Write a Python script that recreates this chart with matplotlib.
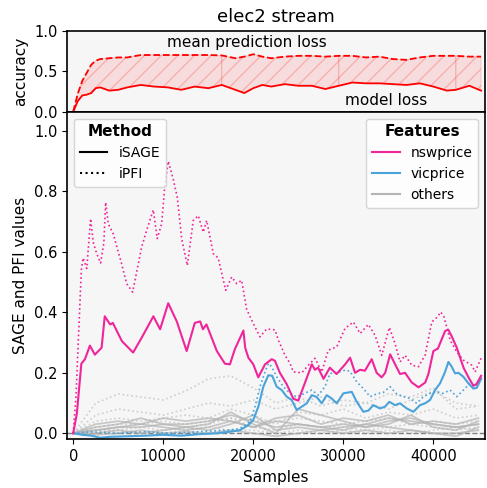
import numpy as np
import matplotlib
matplotlib.use('Agg')
import matplotlib.pyplot as plt
from matplotlib.lines import Line2D

# top panel: accuracy / loss curves
acc_samples = [0, 500, 1000, 1500, 2000, 2500, 3000, 4000, 5000, 6000, 7500, 9000, 10500,
               12000, 13500, 15000, 16500, 18000, 19000, 20000, 21000, 22000, 23500, 25000,
               26500, 28000, 29500, 31000, 32500, 34000, 35500, 37000, 38500, 40000, 41500,
               42500, 44000, 45300]
mean_loss = [0, 0.22, 0.38, 0.48, 0.58, 0.63, 0.65, 0.66, 0.67, 0.67, 0.70, 0.70, 0.70,
             0.70, 0.70, 0.70, 0.695, 0.66, 0.68, 0.71, 0.68, 0.66, 0.68, 0.69,
             0.69, 0.68, 0.69, 0.69, 0.67, 0.68, 0.65, 0.64, 0.67, 0.69, 0.69,
             0.69, 0.68, 0.68]
model_loss = [0, 0.13, 0.20, 0.21, 0.23, 0.29, 0.30, 0.26, 0.27, 0.30, 0.33, 0.31, 0.30,
              0.27, 0.31, 0.29, 0.33, 0.27, 0.23, 0.29, 0.33, 0.31, 0.34, 0.32,
              0.32, 0.28, 0.32, 0.36, 0.35, 0.35, 0.34, 0.33, 0.35, 0.31, 0.26,
              0.27, 0.32, 0.26]

# nswprice
nsw_sage_x = [0, 400, 900, 1300, 1850, 2400, 3150, 3500, 4100, 4400, 5400, 6650, 7600, 8500,
              8900, 9650, 10550, 11500, 12600, 13500, 14100, 14400, 14800, 15950, 16850,
              17400, 17950, 18900, 19100, 19450, 20000, 20550, 21300, 22050, 22400, 22950,
              23700, 24450, 25000, 25550, 26500, 26850, 27200, 27800, 28500, 29250, 30200,
              30750, 31300, 31850, 32400, 33150, 33700, 34250, 34650, 35200, 35750, 36300,
              36850, 37600, 38350, 39100, 39450, 40000, 40500, 41300, 41650, 42050, 42600,
              43350, 43900, 44450, 44800, 45300]
nsw_sage = [0, 0.065, 0.23, 0.245, 0.29, 0.26, 0.283, 0.387, 0.36, 0.365, 0.305, 0.267, 0.316,
            0.365, 0.387, 0.344, 0.43, 0.37, 0.272, 0.365, 0.37, 0.344, 0.36, 0.272, 0.23,
            0.228, 0.278, 0.34, 0.283, 0.25, 0.228, 0.185, 0.228, 0.245, 0.24, 0.2,
            0.163, 0.114, 0.108, 0.152, 0.228, 0.21, 0.217, 0.18, 0.217, 0.196, 0.228,
            0.25, 0.2, 0.21, 0.207, 0.245, 0.2, 0.185, 0.2, 0.261, 0.228, 0.196,
            0.2, 0.168, 0.152, 0.168, 0.196, 0.272, 0.28, 0.338, 0.343, 0.32, 0.283,
            0.217, 0.185, 0.157, 0.163, 0.19]
nsw_pfi_x = [0, 300, 900, 1100, 1500, 1930, 2220, 2600, 3040, 3400, 3600, 3890, 4440, 5370,
             5930, 6600, 7600, 8150, 8890, 9330, 9820, 10190, 10560, 11110, 11560, 12040,
             12670, 13330, 13890, 14440, 14820, 15560, 16100, 16930, 17600, 18150, 18700,
             19260, 20000, 20740, 21490, 22410, 22780, 23520, 24080, 24440, 25380, 26110,
             26860, 27600, 28330, 29270, 30190, 31110, 31860, 32780, 33520, 34270, 35110,
             35740, 36300, 36860, 37600, 38330, 39080, 39820, 40450, 40820, 41180, 41860,
             42600, 43330, 44270, 44630, 45300]
nsw_pfi = [0, 0.12, 0.54, 0.58, 0.545, 0.71, 0.632, 0.595, 0.563, 0.63, 0.764, 0.693, 0.66, 0.561,
           0.495, 0.467, 0.616, 0.671, 0.739, 0.644, 0.693, 0.825, 0.9, 0.84, 0.78, 0.644,
           0.555, 0.704, 0.72, 0.665, 0.704, 0.594, 0.58, 0.473, 0.517, 0.495, 0.506,
           0.41, 0.363, 0.319, 0.345, 0.342, 0.308, 0.258, 0.231, 0.203, 0.2, 0.225,
           0.248, 0.203, 0.275, 0.286, 0.347, 0.368, 0.33, 0.36, 0.324, 0.258, 0.35,
           0.297, 0.236, 0.258, 0.225, 0.22, 0.258, 0.368, 0.385, 0.401, 0.385, 0.308,
           0.269, 0.242, 0.225, 0.203, 0.248]

# vicprice
vic_sage_x = [0, 1000, 2000, 3000, 4000, 6000, 8000, 10000, 12000, 14000, 16000, 17400, 18500,
              19450, 20000, 20560, 21110, 21670, 22100, 22600, 23150, 23710, 24260, 24820,
              25380, 25930, 26490, 27040, 27600, 28150, 28700, 29270, 30000, 30930, 31490,
              32220, 32780, 33330, 34070, 34630, 35110, 35740, 36300, 37040, 37780, 38520,
              39080, 39630, 40190, 40740, 41300, 41670, 42040, 42410, 42780, 43330, 43890,
              44440, 44810, 45300]
vic_sage = [0, -0.005, -0.008, -0.015, -0.012, -0.01, -0.008, -0.005, -0.008, -0.003, 0.0, 0.005, 0.01,
            0.027, 0.044, 0.088, 0.154, 0.192, 0.19, 0.154, 0.143, 0.121, 0.11, 0.077,
            0.088, 0.099, 0.126, 0.12, 0.099, 0.126, 0.115, 0.099, 0.132, 0.137, 0.104,
            0.071, 0.075, 0.093, 0.082, 0.088, 0.104, 0.093, 0.099, 0.082, 0.071, 0.093,
            0.099, 0.11, 0.143, 0.165, 0.203, 0.236, 0.22, 0.198, 0.2, 0.187, 0.165,
            0.148, 0.15, 0.18]
vic_pfi_x = [0, 2000, 5000, 8000, 11000, 14000, 17000, 18500, 19630, 20190, 20740, 21300, 21670,
             22040, 22600, 23330, 24080, 24820, 25560, 26490, 27230, 27960, 28520, 29270,
             30190, 30740, 31490, 32220, 32970, 33700, 34440, 35190, 35930, 36670, 37410,
             38150, 38890, 39630, 40370, 41110, 41850, 42600, 43330, 44070, 44630, 45300]
vic_pfi = [0, 0.005, 0.0, 0.005, 0.0, 0.005, 0.01, 0.015, 0.038, 0.088, 0.154, 0.203, 0.231,
           0.22, 0.187, 0.154, 0.132, 0.12, 0.13, 0.143, 0.126, 0.154, 0.198, 0.2,
           0.209, 0.205, 0.17, 0.148, 0.121, 0.13, 0.135, 0.154, 0.13, 0.121, 0.115,
           0.099, 0.121, 0.132, 0.137, 0.132, 0.143, 0.121, 0.143, 0.165, 0.154, 0.187]

# remaining features (drawn in gray)
others_x = [0, 2500, 5000, 7500, 10000, 12500, 15000, 17500, 20000, 22500, 25000, 27500,
            30000, 32500, 35000, 37500, 40000, 42500, 45000]
others_sage = [
    [0, 0.02, 0.03, 0.05, 0.03, 0.03, 0.04, 0.06, 0.04, 0.02, 0.03, 0.02, 0.03, 0.02, 0.04, 0.05, 0.03, 0.02, 0.03],
    [0, 0.01, 0.02, 0.02, 0.03, 0.02, 0.03, 0.07, 0.03, 0.00, 0.08, 0.06, 0.04, 0.02, 0.03, 0.06, 0.02, 0.01, 0.04],
    [0, 0.0, 0.01, 0.0, 0.01, 0.02, 0.01, 0.03, 0.06, 0.01, 0.02, 0.01, 0.02, 0.03, 0.02, 0.01, 0.0, -0.01, 0.02],
    [0, 0.03, 0.04, 0.03, 0.05, 0.04, 0.05, 0.04, 0.02, 0.05, 0.06, 0.03, 0.05, 0.04, 0.06, 0.03, 0.04, 0.03, 0.05],
    [0, -0.005, 0.0, 0.01, 0.0, 0.005, 0.0, 0.01, 0.0, -0.01, 0.0, 0.01, 0.0, 0.01, 0.0, 0.01, 0.0, 0.0, 0.01],
    [0, 0.01, 0.02, 0.03, 0.02, 0.01, 0.02, 0.04, 0.02, 0.04, 0.03, 0.02, 0.01, 0.03, 0.05, 0.04, 0.03, 0.02, 0.03],
]
others_pfi = [
    [0, 0.10, 0.13, 0.12, 0.11, 0.14, 0.18, 0.19, 0.15, 0.10, 0.12, 0.09, 0.11, 0.10, 0.13, 0.12, 0.15, 0.08, 0.09],
    [0, 0.06, 0.08, 0.07, 0.06, 0.08, 0.10, 0.09, 0.11, 0.08, 0.10, 0.12, 0.09, 0.10, 0.08, 0.11, 0.14, 0.10, 0.09],
    [0, 0.04, 0.05, 0.04, 0.05, 0.06, 0.05, 0.08, 0.06, 0.03, 0.07, 0.06, 0.08, 0.05, 0.07, 0.06, 0.08, 0.05, 0.06],
    [0, 0.02, 0.03, 0.03, 0.04, 0.03, 0.04, 0.05, 0.04, 0.04, 0.05, 0.04, 0.03, 0.04, 0.05, 0.03, 0.04, 0.03, 0.04],
    [0, 0.01, 0.01, 0.02, 0.01, 0.02, 0.03, 0.05, 0.02, 0.01, 0.03, 0.02, 0.02, 0.01, 0.02, 0.03, 0.02, 0.01, 0.02],
    [0, 0.0, 0.01, 0.0, 0.0, 0.01, 0.02, 0.01, 0.01, 0.0, 0.01, 0.0, 0.01, 0.0, 0.01, 0.0, 0.01, 0.02, 0.01],
]
fill_breaks = [0, 16500, 29500, 42500, 45300]

NSW_COLOR = '#f0249b'
VIC_COLOR = '#4aa3da'
GRAY = '#b4b4b4'
BG = '#f6f6f6'

plt.rcParams['font.family'] = ['DejaVu Sans']
plt.rcParams['axes.linewidth'] = 1.2

fig = plt.figure(figsize=(4.87, 4.88), dpi=100)
gs = fig.add_gridspec(2, 1, height_ratios=[81, 328], hspace=0,
                      left=0.138, right=0.996, top=0.937, bottom=0.0998)
ax_top = fig.add_subplot(gs[0])
ax = fig.add_subplot(gs[1], sharex=ax_top)

# --- top panel
xs = np.array(acc_samples)
m_loss = np.array(model_loss)
p_loss = np.array(mean_loss)
for a, b in zip(fill_breaks[:-1], fill_breaks[1:]):
    sel = (xs >= a) & (xs <= b)
    ax_top.fill_between(xs[sel], m_loss[sel], p_loss[sel], facecolor=(1, 0, 0, 0.1),
                        edgecolor=(1, 0, 0, 0.2), hatch='//', linewidth=0.5)
ax_top.plot(acc_samples, mean_loss, color='red', ls='--', lw=1.3)
ax_top.plot(acc_samples, model_loss, color='red', ls='-', lw=1.3)
ax_top.text(19300, 0.86, 'mean prediction loss', ha='center', va='center', fontsize=11)
ax_top.text(34700, 0.14, 'model loss', ha='center', va='center', fontsize=11)
ax_top.set_ylim(0, 1)
ax_top.set_yticks([0, 0.5, 1.0])
ax_top.set_ylabel('accuracy', fontsize=11)
ax_top.set_title('elec2 stream', fontsize=13)
ax_top.set_facecolor(BG)
ax_top.tick_params(axis='x', bottom=False, labelbottom=False)
ax_top.tick_params(axis='y', labelsize=10.5)

# --- bottom panel
ax.axhline(0, color='gray', ls='--', lw=1, zorder=1)
for ys in others_pfi:
    ax.plot(others_x, ys, color=GRAY, ls=':', lw=1.2, alpha=0.6)
for ys in others_sage:
    ax.plot(others_x, ys, color=GRAY, ls='-', lw=1.3, alpha=0.7)
ax.plot(vic_pfi_x, vic_pfi, color=VIC_COLOR, ls=':', lw=1.2)
ax.plot(vic_sage_x, vic_sage, color=VIC_COLOR, ls='-', lw=1.5)
ax.plot(nsw_pfi_x, nsw_pfi, color=NSW_COLOR, ls=':', lw=1.2)
ax.plot(nsw_sage_x, nsw_sage, color=NSW_COLOR, ls='-', lw=1.5)

ax.set_xlim(-670, 45740)
ax.set_ylim(-0.02, 1.064)
ax.set_yticks([0, 0.2, 0.4, 0.6, 0.8, 1.0])
ax.set_xticks([0, 10000, 20000, 30000, 40000])
ax.tick_params(labelsize=10.5)
ax.set_xlabel('Samples', fontsize=11)
ax.set_ylabel('SAGE and PFI values', fontsize=11)
ax.set_facecolor(BG)

method_handles = [Line2D([], [], color='black', ls='-', lw=1.5),
                  Line2D([], [], color='black', ls=':', lw=1.5)]
leg1 = ax.legend(method_handles, ['iSAGE', 'iPFI'], loc='upper left', fontsize=10,
                 title='Method', title_fontproperties={'weight': 'bold', 'size': 11})
ax.add_artist(leg1)
feat_handles = [Line2D([], [], color=NSW_COLOR, lw=1.5),
                Line2D([], [], color=VIC_COLOR, lw=1.5),
                Line2D([], [], color=GRAY, lw=1.5)]
ax.legend(feat_handles, ['nswprice', 'vicprice', 'others'], loc='upper right', fontsize=10,
          title='Features', title_fontproperties={'weight': 'bold', 'size': 11})

fig.savefig('out.png', dpi=100)
